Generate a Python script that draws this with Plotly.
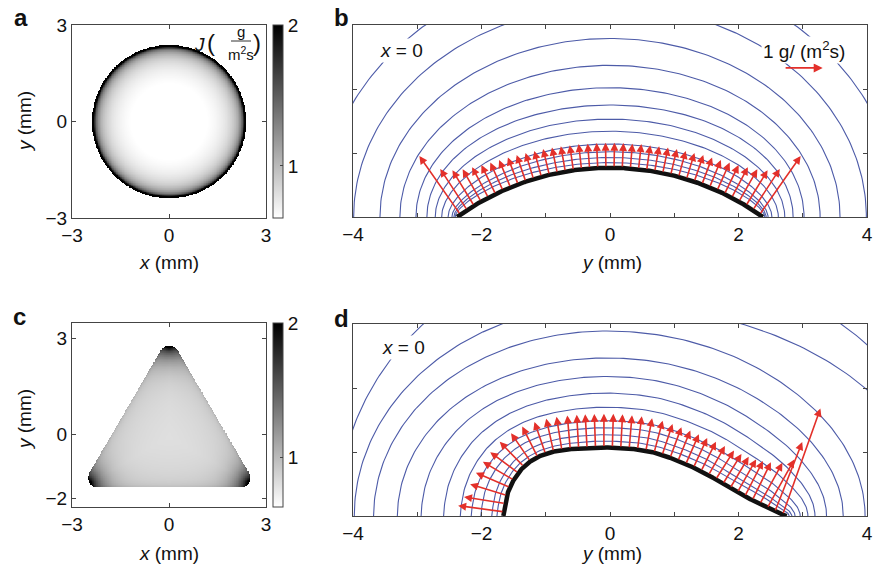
import numpy as np
import plotly.graph_objects as go

W, H = 882, 569
FONT = "Liberation Sans, Arial, Helvetica, sans-serif"
RED = "#e3302a"
BLUE = "#4d5ba8"
AXC = "#444444"
FS = 19

# ---------------- data ----------------
# colour scale of evaporative flux J (g m^-2 s^-1)
J_MIN, J_MAX = 0.63, 2.0
CBAR_TICKS = [1, 2]

# panel a : circular footprint, J = J0 (1 - r^2/R^2)^(-lam)
CIRC_R = 2.38
CIRC_J0 = 0.56
CIRC_LAM = 0.42

# panel c : rounded-triangle footprint
TRI_INRADIUS = 1.275
TRI_CORNER_R = 0.30
TRI_CENTROID_Y = -0.085
TRI_J0 = 0.82
TRI_EDGE_EXP = 0.05
TRI_CORNER_GAIN = 1.35
TRI_CORNER_LEN = 0.38

# tick values
AC_XTICKS = [-3, 0, 3]
A_YTICKS = [-3, 0, 3]
C_YTICKS = [-2, 0, 3]
C_YRANGE = [-2.28, 3.47]
BD_XRANGE = [-4, 4]
BD_YTICKS = [1, 2]

ARROW_MM_PER_UNIT = 0.6   # length (mm) of a 1 g/(m^2 s) arrow

# panel b : x = 0 section of the circular drop
B_DROP_R = 2.38
B_DROP_H = 0.77
B_FLUX_HALF = [1.86, 1.28, 1.08, 0.97, 0.90, 0.84, 0.80, 0.77, 0.75, 0.73,
               0.71, 0.70, 0.69, 0.68, 0.67, 0.66, 0.66, 0.65, 0.65, 0.65]
B_CONT_A = [2.41, 2.43, 2.46, 2.52, 2.62, 2.72, 2.85, 3.02, 3.27, 3.58, 3.99, 4.50]
B_CONT_H = [0.85, 0.93, 1.02, 1.14, 1.34, 1.53, 1.75, 2.02, 2.37, 2.79, 3.30, 3.90]
B_CONT_W = [0.5, 0.45, 0.4, 0.3, 0.2, 0.1, 0.0, 0.0, 0.0, 0.0, 0.0, 0.0]

# panel d : x = 0 section of the triangular drop
D_PROF_Y = [-1.66, -1.61, -1.50, -1.32, -1.06, -0.75, -0.39, -0.05, 0.34, 0.65,
            0.96, 1.27, 1.53, 1.79, 2.05, 2.31, 2.51, 2.75]
D_PROF_Z = [0.00, 0.30, 0.56, 0.79, 0.95, 1.03, 1.06, 1.07, 1.05, 1.00,
            0.90, 0.77, 0.64, 0.48, 0.33, 0.20, 0.09, 0.00]
D_FLUX = [1.20, 1.08, 1.00, 0.96, 0.93, 0.91, 0.90, 0.89, 0.89, 0.88,
          0.88, 0.88, 0.88, 0.88, 0.88, 0.88, 0.88, 0.88, 0.88, 0.87,
          0.87, 0.86, 0.86, 0.85, 0.85, 0.85, 0.85, 0.85, 0.86, 0.87,
          0.89, 0.92, 0.95, 0.99, 1.04, 1.10, 1.22, 1.45, 1.95, 2.93]
D_CONT_AL = [-1.76, -1.84, -2.01, -2.16, -2.33, -2.59, -2.94, -3.31, -3.68, -3.98, -4.24]
D_CONT_AR = [2.79, 2.83, 2.88, 2.96, 3.08, 3.19, 3.37, 3.63, 3.97, 5.00, 5.30]
D_CONT_H = [1.17, 1.27, 1.38, 1.49, 1.70, 1.92, 2.18, 2.47, 2.89, 3.30, 4.10]
D_CONT_W = [0.75, 0.7, 0.6, 0.5, 0.4, 0.3, 0.2, 0.1, 0.05, 0.0, 0.0]


# ---------------- helpers ----------------
def px(xp, yp):
    return xp / W, 1 - yp / H


def cap_z(x):
    rc = (B_DROP_R ** 2 + B_DROP_H ** 2) / (2 * B_DROP_H)
    return np.sqrt(np.clip(rc ** 2 - x ** 2, 0, None)) - (rc - B_DROP_H)


def catmull(xs, zs, n=24):
    P = np.column_stack([xs, zs]).astype(float)
    P = np.vstack([2 * P[0] - P[1], P, 2 * P[-1] - P[-2]])
    out = []
    t = np.linspace(0, 1, n, endpoint=False)[:, None]
    for i in range(1, len(P) - 2):
        p0, p1, p2, p3 = P[i - 1], P[i], P[i + 1], P[i + 2]
        out.append(0.5 * (2 * p1 + (-p0 + p2) * t + (2 * p0 - 5 * p1 + 4 * p2 - p3) * t ** 2
                          + (-p0 + 3 * p1 - 3 * p2 + p3) * t ** 3))
    out.append(P[-2][None, :])
    c = np.vstack(out)
    return c[:, 0], np.clip(c[:, 1], 0, None)


def arrows_along(cx, cz, flux, scale):
    seg = np.hypot(np.diff(cx), np.diff(cz))
    s = np.concatenate([[0], np.cumsum(seg)])
    N = len(flux)
    st = (np.arange(N) + 0.5) / N * s[-1]
    e = 0.03
    bx, bz = np.interp(st, s, cx), np.interp(st, s, cz)
    s1, s2 = np.clip(st - e, 0, s[-1]), np.clip(st + e, 0, s[-1])
    tx = np.interp(s2, s, cx) - np.interp(s1, s, cx)
    tz = np.interp(s2, s, cz) - np.interp(s1, s, cz)
    nn = np.hypot(tx, tz)
    nx, nz = -tz / nn, tx / nn
    L = np.asarray(flux) * scale
    return bx, bz, bx + L * nx, bz + L * nz


def contour_xy(aL, aR, hc, w, zfun, xl, xr, xc, htop):
    th = np.linspace(0, np.pi / 2, 90)
    u = np.sin(th)
    E = np.cos(th)
    xR = xc + u * (aR - xc)
    yR = hc * (w * zfun(xc + u * (xr - xc)) / htop + (1 - w) * E)
    xL = xc + u * (aL - xc)
    yL = hc * (w * zfun(xc + u * (xl - xc)) / htop + (1 - w) * E)
    return np.concatenate([xL[::-1], xR[1:]]), np.concatenate([yL[::-1], yR[1:]])


fig = go.Figure()
GRAY = [[0, "#ffffff"], [1, "#000000"]]

# ---------------- panel a heatmap ----------------
xa = np.linspace(-3, 3, 301)
ya = np.linspace(-3, 3, 301)
XA, YA = np.meshgrid(xa, ya)
r2 = (XA ** 2 + YA ** 2) / CIRC_R ** 2
ZA = np.where(r2 < 1, CIRC_J0 * (1 - np.minimum(r2, 0.999)) ** (-CIRC_LAM), np.nan)


def cbar(ytop, ybot):
    return dict(x=273 / W, xanchor="left", y=1 - (ytop + ybot) / 2 / H, yanchor="middle",
                len=(ybot - ytop) / H, lenmode="fraction", thickness=10,
                thicknessmode="pixels", outlinewidth=1, outlinecolor=AXC,
                tickvals=CBAR_TICKS, ticks="inside", ticklen=3, tickcolor=AXC,
                tickfont=dict(size=FS, color="#111", family=FONT), xpad=0, ypad=0)


fig.add_trace(go.Heatmap(x=xa, y=ya, z=ZA, colorscale=GRAY, zmin=J_MIN, zmax=J_MAX,
                         xaxis="x", yaxis="y", colorbar=cbar(25, 218),
                         hoverinfo="skip"))

# ---------------- panel c heatmap ----------------
xc_ = np.linspace(-3, 3, 301)
yc_ = np.linspace(C_YRANGE[0], C_YRANGE[1], 289)
XC, YC = np.meshgrid(xc_, yc_)
angs = np.deg2rad([90, 210, 330])
verts = [(2 * TRI_INRADIUS * np.cos(a), TRI_CENTROID_Y + 2 * TRI_INRADIUS * np.sin(a)) for a in angs]
tips = [((2 * TRI_INRADIUS + TRI_CORNER_R) * np.cos(a),
         TRI_CENTROID_Y + (2 * TRI_INRADIUS + TRI_CORNER_R) * np.sin(a)) for a in angs]


def seg_dist(px_, py_, a, b):
    ax_, ay_ = a
    bx_, by_ = b
    vx, vy = bx_ - ax_, by_ - ay_
    t = np.clip(((px_ - ax_) * vx + (py_ - ay_) * vy) / (vx * vx + vy * vy), 0, 1)
    return np.hypot(px_ - ax_ - t * vx, py_ - ay_ - t * vy)


dseg = np.minimum.reduce([seg_dist(XC, YC, verts[i], verts[(i + 1) % 3]) for i in range(3)])
fk = [XC * np.cos(a) + (YC - TRI_CENTROID_Y) * np.sin(a) - TRI_INRADIUS
      for a in np.deg2rad([270, 30, 150])]
inside = np.max(fk, axis=0) <= 0
sd = np.where(inside, -dseg, dseg)
db = TRI_CORNER_R - sd
dtip = np.minimum.reduce([np.hypot(XC - tx, YC - ty) for tx, ty in tips])
JC = (TRI_J0 * np.clip(db, 0.01, None) ** (-TRI_EDGE_EXP)
      * (1 + TRI_CORNER_GAIN * np.exp(-dtip / TRI_CORNER_LEN)))
ZC = np.where(db > 0, JC, np.nan)
fig.add_trace(go.Heatmap(x=xc_, y=yc_, z=ZC, colorscale=GRAY, zmin=J_MIN, zmax=J_MAX,
                         xaxis="x3", yaxis="y3", colorbar=cbar(323, 507),
                         hoverinfo="skip"))

annotations = []


def add_arrow(x0, z0, x1, z1, ax, ay, width=1.6):
    annotations.append(dict(x=x1, y=z1, ax=x0, ay=z0, xref=ax, yref=ay, axref=ax,
                            ayref=ay, showarrow=True, arrowhead=2, arrowsize=1.0,
                            arrowwidth=width, arrowcolor=RED, text="", standoff=0))


# ---------------- panel b ----------------
for a_, h_, w_ in zip(B_CONT_A, B_CONT_H, B_CONT_W):
    cx, cy = contour_xy(-a_, a_, h_, w_, cap_z, -B_DROP_R, B_DROP_R, 0.0, B_DROP_H)
    fig.add_trace(go.Scatter(x=cx, y=cy, mode="lines", line=dict(color=BLUE, width=1.1),
                             xaxis="x2", yaxis="y2", showlegend=False, hoverinfo="skip"))
bx_line = np.linspace(-B_DROP_R, B_DROP_R, 300)
bz_line = cap_z(bx_line)
fig.add_trace(go.Scatter(x=bx_line, y=bz_line, mode="lines", line=dict(color="#111", width=4.5),
                         xaxis="x2", yaxis="y2", showlegend=False, hoverinfo="skip"))
b_flux = B_FLUX_HALF + B_FLUX_HALF[::-1]
for x0, z0, x1, z1 in zip(*arrows_along(bx_line, bz_line, b_flux, ARROW_MM_PER_UNIT)):
    add_arrow(x0, z0, x1, z1, "x2", "y2")

# ---------------- panel d ----------------
dx_line, dz_line = catmull(D_PROF_Y, D_PROF_Z)
order = np.argsort(dx_line)


def d_z(x):
    return np.interp(x, dx_line[order], dz_line[order])


for aL, aR, h_, w_ in zip(D_CONT_AL, D_CONT_AR, D_CONT_H, D_CONT_W):
    cx, cy = contour_xy(aL, aR, h_, w_, d_z, D_PROF_Y[0], D_PROF_Y[-1], -0.05, 1.07)
    fig.add_trace(go.Scatter(x=cx, y=cy, mode="lines", line=dict(color=BLUE, width=1.1),
                             xaxis="x4", yaxis="y4", showlegend=False, hoverinfo="skip"))
fig.add_trace(go.Scatter(x=dx_line, y=dz_line, mode="lines", line=dict(color="#111", width=4.5),
                         xaxis="x4", yaxis="y4", showlegend=False, hoverinfo="skip"))
for x0, z0, x1, z1 in zip(*arrows_along(dx_line, dz_line, D_FLUX, ARROW_MM_PER_UNIT)):
    add_arrow(x0, z0, x1, z1, "x4", "y4")

# scale arrow (1 g/(m^2 s))
add_arrow(2.71, 2.33, 2.71 + ARROW_MM_PER_UNIT, 2.33, "x2", "y2", width=1.8)


# ---------------- texts ----------------
def txt(t, xp, yp, size=FS, angle=0, bg=None, xanchor="center"):
    x, y = px(xp, yp)
    d = dict(text=t, x=x, y=y, xref="paper", yref="paper", showarrow=False,
             xanchor=xanchor, yanchor="middle", textangle=angle,
             font=dict(size=size, color="#111", family=FONT))
    if bg:
        d["bgcolor"] = bg
    annotations.append(d)


txt("<b>a</b>", 21, 18, 24)
txt("<b>b</b>", 341, 18, 24)
txt("<b>c</b>", 19, 316, 24)
txt("<b>d</b>", 341, 318, 24)

txt("<i>x</i> (mm)", 169, 262)
txt("<i>y</i> (mm)", 24, 122, angle=-90)
txt("<i>y</i> (mm)", 611, 262)
txt("<i>x</i> (mm)", 169, 553)
txt("<i>y</i> (mm)", 24, 420, angle=-90)
txt("<i>y</i> (mm)", 611, 553)

txt("<i>x</i> = 0", 401, 50, bg="white")
txt("<i>x</i> = 0", 403, 347, bg="white")
txt("1 g/ (m<sup>2</sup>s)", 804, 50, bg="white")

# J (g / m^2 s) label in panel a
txt("<i>J</i>", 199, 44, 19)
txt("(", 211, 42, 24)
txt("g", 241, 31, 15)
txt("m<sup>2</sup>s", 241, 53, 15)
txt(")", 257, 42, 24)

shapes = [dict(type="line", xref="paper", yref="paper",
               x0=231 / W, x1=251 / W, y0=1 - 41 / H, y1=1 - 41 / H,
               line=dict(color="#333", width=1))]


def axis(dom, rng, tickvals=None, labels=True, anchor=None, bd=False):
    d = dict(domain=dom, range=rng, ticks="inside", ticklen=4,
             tickcolor=AXC, showline=True, linecolor=AXC, linewidth=1, mirror="ticks",
             showgrid=False, zeroline=False, showticklabels=labels, automargin=False,
             tickfont=dict(size=FS, color="#111", family=FONT), anchor=anchor)
    if bd:
        d.update(tickmode="linear", tick0=-4, dtick=2,
                 minor=dict(dtick=1, tick0=-4, ticks="inside", ticklen=4, tickcolor=AXC,
                            showgrid=False))
    else:
        d.update(tickmode="array", tickvals=tickvals)
    return d


fig.update_layout(
    width=W, height=H, autosize=False,
    margin=dict(l=0, r=0, t=0, b=0, autoexpand=False),
    paper_bgcolor="white", plot_bgcolor="white",
    font=dict(family=FONT, size=FS, color="#111"),
    showlegend=False,
    xaxis=axis([72 / W, 266 / W], [-3, 3], AC_XTICKS, anchor="y"),
    yaxis=axis([1 - 218 / H, 1 - 25 / H], [-3, 3], A_YTICKS, anchor="x"),
    xaxis2=axis([353 / W, 867 / W], BD_XRANGE, anchor="y2", bd=True),
    yaxis2=axis([1 - 217 / H, 1 - 25 / H], [0, 3], BD_YTICKS, labels=False, anchor="x2"),
    xaxis3=axis([72 / W, 266 / W], [-3, 3], AC_XTICKS, anchor="y3"),
    yaxis3=axis([1 - 507 / H, 1 - 323 / H], C_YRANGE, C_YTICKS, anchor="x3"),
    xaxis4=axis([353 / W, 867 / W], BD_XRANGE, anchor="y4", bd=True),
    yaxis4=axis([1 - 516 / H, 1 - 324 / H], [0, 3], BD_YTICKS, labels=False, anchor="x4"),
    annotations=annotations,
    shapes=shapes,
)

fig.write_html("out.html", config={"displayModeBar": False},
               post_script="document.body.style.margin='0';document.body.style.padding='0';")
